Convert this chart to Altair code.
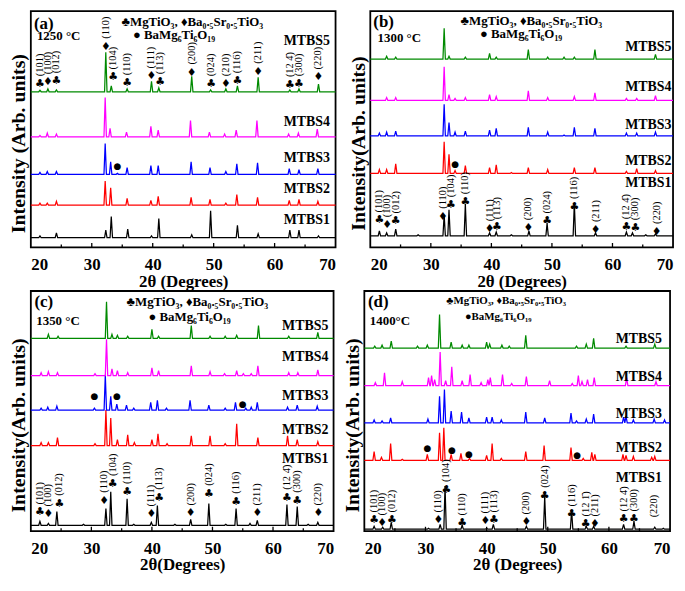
import altair as alt
import pandas as pd

SAMPLES = ["MTBS1", "MTBS2", "MTBS3", "MTBS4", "MTBS5"]
COLORS = ["#000000", "#ff0000", "#0000ff", "#ff00ff", "#008a00"]
X_LABELS = [20, 30, 40, 50, 60, 70]
MAJOR_TICKS = [30, 40, 50, 60]
MINOR_TICKS = [25, 35, 45, 55, 65]
HALF_WIDTH = 0.2
SERIF = "Liberation Serif"
SYMF = "DejaVu Sans"
LEG1 = "♣MgTiO₃, ♦Ba₀.₅Sr₀.₅TiO₃"
LEG2 = "● BaMg₆Ti₆O₁₉"

# ---------------- panel (a) 1250 °C ----------------
A_BASE = [10, 44, 76, 115, 162]
A1 = [(21.5, 2), (24.2, 5), (32.3, 8), (33.2, 22), (35.9, 9), (39.8, 2), (41.0, 20), (46.4, 3), (49.5, 28),
      (53.9, 13), (57.3, 4), (62.5, 8), (64.0, 8), (67.2, 2)]
A2 = [(21.5, 2), (22.7, 2), (24.2, 4), (32.2, 25), (33.1, 18), (35.8, 7), (39.7, 5), (40.9, 9), (46.3, 8),
      (49.4, 6), (52.0, 2), (53.8, 11), (57.2, 8), (62.4, 5), (64.0, 6), (67.1, 4)]
A3 = [(21.5, 2), (22.7, 3), (24.2, 3), (32.2, 32), (33.1, 13), (34.2, 1), (35.8, 7), (39.7, 9), (40.9, 9),
      (46.3, 13), (49.4, 7), (52.0, 3), (53.8, 11), (57.2, 12), (62.4, 6), (64.0, 5), (67.1, 6)]
A4 = [(21.5, 1.5), (22.7, 4), (24.2, 3), (32.2, 41), (33.0, 9), (35.7, 5), (39.7, 11), (40.9, 7), (46.2, 17),
      (49.3, 5), (51.8, 3), (53.7, 7), (57.1, 17), (62.3, 3), (63.9, 4), (67.0, 8)]
A5 = [(21.5, 1.5), (22.8, 3), (24.2, 2), (32.3, 41), (33.2, 6), (35.8, 3), (39.8, 11), (41.0, 4), (46.4, 16),
      (49.5, 2), (52.0, 3), (53.9, 6), (57.3, 15), (62.5, 2), (64.0, 3), (67.2, 8)]
A_LABEL_X = 61.5
A_LABEL_Y = [28, 61, 93, 130, 215]
A_ANN = [(21.5, "♣", 170, "(101)"), (22.8, "♦", 172, "(100)"), (24.2, "♣", 173, "(012)"),
         (32.3, "♦", 209, "(110)"), (33.5, "♣", 177, "(104)"), (35.8, "♣", 171, "(110)"),
         (39.8, "♦", 178, "(111)"), (41.2, "♣", 172, "(113)"), (46.4, "♦", 182, "(200)"),
         (49.6, "♣", 170, "(024)"), (52.0, "♦", 170, "(210)"), (53.9, "♣", 173, "(116)"),
         (57.3, "♦", 183, "(211)"), (62.5, "♣", 169, "(12 4̄)"), (64.0, "♣", 170, "(300)"),
         (67.2, "♦", 177, "(220)")]
A_DOTS = [(34.2, 85)]
A_HEAD = [(20.5, 233, "(a)", 17), (21.0, 220, "1250 °C", 13)]
A_LEG = [(46.5, 235, LEG1, 13), (43.5, 221, LEG2, 13)]

# ---------------- panel (b) 1300 °C ----------------
B_BASE = [12, 77, 116, 153, 196]
B1 = [(21.5, 5), (22.7, 3), (24.2, 7), (27.9, 1), (32.2, 22), (33.0, 27), (35.7, 33), (39.7, 3), (40.8, 4),
      (43.3, 1), (46.2, 5), (49.2, 13), (53.7, 34), (57.2, 3), (62.3, 4), (63.3, 3), (65.5, 1), (67.1, 2)]
B2 = [(21.5, 4), (22.7, 4), (24.2, 10), (32.2, 33), (33.0, 20), (34.0, 3), (35.7, 8), (39.7, 6), (40.8, 9),
      (43.3, 1), (46.1, 6), (49.3, 4), (53.7, 6), (57.1, 6), (62.3, 2), (64.0, 5), (67.1, 3)]
B3 = [(21.5, 3), (22.7, 4), (24.2, 5), (32.2, 33), (33.0, 14), (34.0, 4), (35.7, 5), (39.7, 6), (40.8, 8),
      (46.1, 9), (49.3, 4), (52.0, 1), (53.7, 9), (57.1, 8), (62.3, 3), (64.0, 3), (67.1, 4)]
B4 = [(22.7, 3), (24.2, 3), (32.2, 35), (33.0, 6), (34.0, 2), (35.7, 3), (39.7, 6), (40.8, 4), (46.1, 10),
      (49.3, 3), (53.7, 4), (57.1, 8), (62.3, 2), (64.0, 2), (67.1, 5)]
B5 = [(22.7, 3), (24.2, 2), (32.2, 32), (33.0, 3), (35.7, 2), (39.7, 6), (40.8, 2), (46.1, 10), (49.3, 2),
      (52.0, 2), (53.7, 2), (57.1, 10), (67.1, 5)]
B_LABEL_X = 62.1
B_LABEL_Y = [67, 90, 127, 167, 209]
B_ANN = [(21.5, "♣", 28, "(101)"), (22.8, "♦", 23, "(100)"), (24.2, "♣", 27, "(012)"),
         (32.0, "♦", 32, "(110)"), (33.3, "♣", 44, "(104)"), (35.7, "♣", 47, "(110)"),
         (39.7, "♦", 19, "(111)"), (40.9, "♣", 21, "(113)"), (46.1, "♦", 20, "(200)"),
         (49.2, "♣", 27, "(024)"), (53.7, "♣", 42, "(116)"), (57.2, "♦", 18, "(211)"),
         (62.3, "♣", 21, "(12 4̄)"), (63.8, "♣", 20, "(300)"), (67.3, "♦", 16, "(220)")]
B_DOTS = [(34.0, 87)]
B_HEAD = [(20.5, 235, "(b)", 17), (21.2, 218, "1300 °C", 13)]
B_LEG = [(46.6, 236, LEG1, 13), (44.9, 222, LEG2, 13)]

# ---------------- panel (c) 1350 °C ----------------
C_BASE = [6, 87, 123, 158, 196]
C1 = [(21.5, 4), (22.9, 2), (24.3, 14), (28.7, 1), (32.4, 17), (33.2, 34), (35.9, 27), (37.0, 1), (39.9, 3),
      (40.9, 20), (43.8, 1), (46.4, 6), (49.4, 22), (52.2, 1), (53.9, 17), (56.2, 2), (57.4, 5), (62.3, 21),
      (64.0, 19), (65.8, 1), (67.4, 3)]
C2 = [(21.7, 3), (22.9, 3), (24.4, 8), (30.6, 2), (32.4, 36), (33.2, 28), (34.3, 6), (36.0, 11), (37.1, 3),
      (40.0, 6), (41.0, 12), (42.5, 2), (46.5, 10), (49.6, 10), (52.1, 2), (54.0, 22), (57.5, 8), (62.4, 10),
      (64.0, 6), (67.4, 4)]
C3 = [(21.7, 2), (22.8, 3), (24.3, 4), (30.5, 2), (32.3, 36), (33.2, 14), (34.2, 6), (35.8, 5), (37.0, 2),
      (39.8, 8), (40.9, 10), (42.4, 2), (46.3, 10), (49.4, 5), (52.1, 2), (53.8, 8), (55.5, 2), (56.4, 3),
      (57.4, 8), (62.4, 3), (64.0, 5), (67.3, 4)]
C4 = [(21.7, 3), (22.9, 4), (24.4, 3), (30.6, 2), (32.5, 37), (33.4, 7), (34.3, 5), (36.0, 3), (40.0, 8),
      (41.1, 5), (46.5, 10), (49.6, 4), (52.0, 2), (54.0, 5), (55.1, 2), (56.4, 2), (57.5, 10), (62.6, 3),
      (64.1, 3), (67.4, 6)]
C5 = [(22.9, 4), (24.5, 2), (32.5, 37), (33.4, 4), (34.3, 3), (36.0, 2), (40.0, 9), (41.1, 2), (46.5, 13),
      (49.6, 2), (52.1, 2), (54.0, 3), (57.6, 13), (62.6, 2), (67.4, 6)]
C_LABEL_X = 61.5
C_LABEL_Y = [73, 103, 137, 177, 208]
C_ANN = [(21.5, "♣", 19, "(101)"), (22.9, "♦", 17, "(100)"), (24.7, "♣", 28, "(012)"),
         (32.1, "♦", 31, "(110)"), (33.5, "♣", 48, "(104)"), (35.9, "♣", 40, "(110)"),
         (39.9, "♦", 17, "(111)"), (41.2, "♣", 34, "(113)"), (46.4, "♦", 18, "(200)"),
         (49.4, "♣", 38, "(024)"), (53.9, "♣", 30, "(116)"), (57.4, "♦", 18, "(211)"),
         (62.3, "♣", 34, "(12 4̄)"), (64.0, "♣", 31, "(300)"), (67.5, "♦", 18, "(220)")]
C_DOTS = [(30.5, 137), (34.2, 137), (55.0, 129)]
C_HEAD = [(20.6, 233, "(c)", 17), (20.9, 213, "1350 °C", 13)]
C_LEG = [(47.5, 233, LEG1, 13), (46.2, 218, LEG2, 13)]

# ---------------- panel (d) 1400 °C ----------------
D_BASE = [2, 72, 110, 148, 186]
D1 = [(21.6, 3), (23.0, 2), (24.4, 7), (30.5, 1), (32.4, 5), (33.2, 44), (36.0, 4), (40.0, 1), (41.1, 5),
      (46.5, 3), (49.5, 33), (53.9, 19), (56.3, 3), (57.5, 3), (62.4, 5), (64.1, 8), (67.5, 2), (68.9, 1)]
D2 = [(21.6, 9), (22.8, 3), (24.3, 17), (26.2, 1), (30.3, 6), (32.3, 28), (33.0, 33), (34.2, 6), (35.8, 7),
      (37.2, 2), (40.0, 5), (40.9, 17), (42.4, 2), (46.4, 9), (49.4, 15), (53.8, 13), (55.8, 2), (57.2, 8),
      (57.7, 6), (62.3, 6), (62.8, 5), (64.0, 4), (67.0, 3), (67.5, 4)]
D3 = [(21.6, 3), (22.9, 2), (24.3, 5), (30.4, 4), (32.3, 27), (33.1, 34), (34.2, 12), (35.9, 11), (37.1, 5),
      (40.0, 6), (40.9, 6), (42.4, 3), (46.4, 11), (49.5, 5), (53.8, 10), (54.7, 2), (56.3, 4), (57.5, 9),
      (62.4, 6), (62.8, 7), (64.0, 3), (67.4, 4), (69.1, 3)]
D4 = [(21.8, 3), (23.3, 13), (26.2, 4), (30.5, 8), (31.0, 10), (31.5, 6), (32.4, 34), (33.3, 5), (34.3, 19),
      (36.0, 5), (37.3, 11), (39.1, 3), (40.2, 6), (40.6, 8), (42.6, 11), (44.1, 2), (46.5, 9), (50.3, 5),
      (54.0, 2), (55.0, 10), (55.6, 4), (56.5, 6), (57.6, 8), (62.9, 8), (67.7, 4)]
D5 = [(21.7, 2), (22.9, 3), (24.4, 7), (28.7, 2), (30.3, 3), (32.3, 34), (34.2, 6), (36.0, 3), (37.1, 3),
      (40.0, 6), (40.5, 4), (42.5, 3), (43.7, 2), (46.4, 13), (54.7, 2), (56.3, 4), (57.5, 10), (62.8, 2),
      (67.5, 4)]
D_LABEL_X = 61.1
D_LABEL_Y = [54, 84, 119, 157, 195]
D_ANN = [(21.6, "♣", 11, "(101)"), (22.9, "♦", 8, "(100)"), (24.5, "♣", 11, "(012)"),
         (32.1, "♦", 11, "(110)"), (33.4, "♣", 42, "(104)"), (36.0, "♣", 8, "(110)"),
         (39.8, "♦", 10, "(111)"), (41.2, "♣", 11, "(113)"), (46.5, "♦", 9, "(200)"),
         (49.5, "♣", 36, "(024)"), (53.9, "♣", 17, "(116)"), (56.2, "♣", 7, "(12 1̄)"),
         (57.7, "♦", 7, "(211)"), (62.4, "♣", 12, "(12 4̄)"), (64.1, "♣", 12, "(300)"),
         (67.3, "", 6, "(220)")]
D_DOTS = [(30.3, 84), (34.3, 82), (37.1, 78), (54.8, 77)]
D_HEAD = [(20.6, 233, "(d)", 17), (20.9, 214, "1400°C", 13)]
D_LEG = [(43.2, 234, "♣MgTiO₃, ♦Ba₀.₅Sr₀.₅TiO₃", 11), (41.9, 218, "●BaMg₆Ti₆O₁₉", 11)]


def pattern_rows(base, peaks, sample):
    pts = [(20.0, base)]
    for p, h in sorted(peaks):
        pts += [(p - HALF_WIDTH, base), (p, base + h), (p + HALF_WIDTH, base)]
    pts.append((70.0, base))
    return [{"x": x, "y": y, "sample": sample, "i": i} for i, (x, y) in enumerate(pts)]


def panel(base, peaks, label_x, label_y, ann, dots, head, leg, top, xtitle, ytitle, width, height):
    xs = alt.Scale(domain=[20, 70], nice=False, zero=False)
    ys = alt.Scale(domain=[0, top], nice=False, zero=False)
    rows = []
    for s, b, pk in zip(SAMPLES, base, peaks):
        rows += pattern_rows(b, pk, s)
    lines = alt.Chart(pd.DataFrame(rows)).mark_line(strokeWidth=1.25).encode(
        x=alt.X("x:Q", scale=xs,
                axis=alt.Axis(values=X_LABELS, ticks=False, labelPadding=9, format="d",
                              title=xtitle, titlePadding=1)),
        y=alt.Y("y:Q", scale=ys,
                axis=alt.Axis(labels=False, ticks=False, title=ytitle,
                              titleX=-2, titleY=height / 2 + 14)),
        color=alt.Color("sample:N", scale=alt.Scale(domain=SAMPLES, range=COLORS), legend=None),
        order="i:Q",
    )
    tdf = pd.DataFrame({"x": MAJOR_TICKS + MINOR_TICKS, "y0": 0.0,
                        "y1": [4.5] * len(MAJOR_TICKS) + [3.0] * len(MINOR_TICKS)})
    ticks = alt.Chart(tdf).mark_rule(color="black", strokeWidth=1.3).encode(
        x=alt.X("x:Q", scale=xs), y=alt.Y("y0:Q", scale=ys), y2="y1:Q")
    adf = pd.DataFrame(ann, columns=["x", "sym", "ys", "label"])
    syms = alt.Chart(adf).mark_text(font=SYMF, fontSize=11, color="black", baseline="middle").encode(
        x=alt.X("x:Q", scale=xs), y=alt.Y("ys:Q", scale=ys), text="sym:N")
    hkl = alt.Chart(adf).mark_text(
        font=SERIF, fontSize=10.5, color="black", angle=270, align="left", baseline="middle", dx=8).encode(
        x=alt.X("x:Q", scale=xs), y=alt.Y("ys:Q", scale=ys), text="label:N")
    ddf = pd.DataFrame(dots, columns=["x", "y"])
    ddf["sym"] = "●"
    dotm = alt.Chart(ddf).mark_text(font=SYMF, fontSize=9, color="black", baseline="middle").encode(
        x=alt.X("x:Q", scale=xs), y=alt.Y("y:Q", scale=ys), text="sym:N")
    ldf = pd.DataFrame({"name": SAMPLES, "x": label_x, "y": label_y})
    names = alt.Chart(ldf).mark_text(font=SERIF, fontSize=14, fontWeight="bold", color="black",
                                     align="left", baseline="middle").encode(
        x=alt.X("x:Q", scale=xs), y=alt.Y("y:Q", scale=ys), text="name:N")
    hdf = pd.DataFrame(head, columns=["x", "y", "t", "s"])
    heads = alt.Chart(hdf).mark_text(font=SERIF, fontWeight="bold", color="black",
                                     align="left", baseline="middle").encode(
        x=alt.X("x:Q", scale=xs), y=alt.Y("y:Q", scale=ys), text="t:N", size=alt.Size("s:Q", scale=None))
    gdf = pd.DataFrame(leg, columns=["x", "y", "t", "s"])
    legs = alt.Chart(gdf).mark_text(font=SERIF, fontWeight="bold", color="black",
                                    align="center", baseline="middle").encode(
        x=alt.X("x:Q", scale=xs), y=alt.Y("y:Q", scale=ys), text="t:N", size=alt.Size("s:Q", scale=None))
    return alt.layer(lines, ticks, syms, hkl, dotm, names, heads, legs).properties(width=width, height=height)


pa = panel(A_BASE, [A1, A2, A3, A4, A5], A_LABEL_X, A_LABEL_Y, A_ANN, A_DOTS, A_HEAD, A_LEG, 246,
           "2θ (Degrees)", "Intensity (Arb. units)", 307, 238)
pb = panel(B_BASE, [B1, B2, B3, B4, B5], B_LABEL_X, B_LABEL_Y, B_ANN, B_DOTS, B_HEAD, B_LEG, 246,
           "2θ (Degrees)", "Intensity(Arb. units)", 305, 238)
pc = panel(C_BASE, [C1, C2, C3, C4, C5], C_LABEL_X, C_LABEL_Y, C_ANN, C_DOTS, C_HEAD, C_LEG, 244,
           "2θ(Degrees)", "Intensity(Arb. units)", 305, 242)
pd_ = panel(D_BASE, [D1, D2, D3, D4, D5], D_LABEL_X, D_LABEL_Y, D_ANN, D_DOTS, D_HEAD, D_LEG, 244,
            "2θ (Degrees)", "Intensity(Arb. units)", 308, 242)

chart = alt.vconcat(
    alt.hconcat(pa, pb, spacing=8),
    alt.hconcat(pc, pd_, spacing=4),
    spacing=0,
).properties(padding=0).configure_view(
    stroke="black", strokeWidth=1.8
).configure_axis(
    domain=False, grid=False, labelFont=SERIF, labelFontWeight="bold", labelFontSize=17,
    labelColor="black", titleFont=SERIF, titleFontWeight="bold", titleFontSize=17, titleColor="black"
).configure_axisY(titleFontSize=20)

chart.save("out.html", embed_options={"renderer": "svg", "actions": False})
